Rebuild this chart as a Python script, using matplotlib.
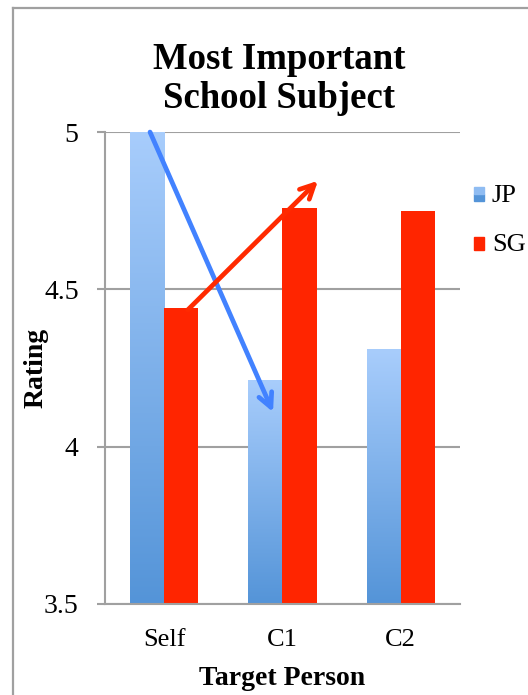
import matplotlib

matplotlib.use("Agg")
import matplotlib.pyplot as plt
import numpy as np
from matplotlib.colors import LinearSegmentedColormap
from matplotlib.lines import Line2D

# Ratings per target person
categories = ["Self", "C1", "C2"]
jp_values = [5.0, 4.21, 4.31]
sg_values = [4.44, 4.76, 4.75]
series_names = ["JP", "SG"]

# Trend arrows (start, end) in data coordinates
jp_arrow = ((-0.12, 5.0), (0.92, 4.11))
sg_arrow = ((0.20, 4.435), (1.30, 4.845))

JP_TOP = "#a8cdfc"
JP_BOTTOM = "#5494d8"
SG_COLOR = "#ff2500"
JP_ARROW = "#4282ff"
SG_ARROW = "#ff2a00"
GRID = "#a0a0a0"
SERIF = ["Liberation Serif", "DejaVu Serif"]

plt.rcParams["font.family"] = SERIF

fig = plt.figure(figsize=(5.28, 6.95), dpi=100)
ax = fig.add_axes([0.199, 0.131, 0.672, 0.679])

x = np.arange(len(categories))
width = 0.288
ymin, ymax = 3.5, 5.0

jp_cmap = LinearSegmentedColormap.from_list("jp", [JP_BOTTOM, JP_TOP])
grad = np.linspace(0, 1, 256).reshape(-1, 1)

for xi, v in zip(x, jp_values):
    left = xi - width
    ax.imshow(grad, cmap=jp_cmap, origin="lower", aspect="auto",
              extent=(left, xi, ymin, v), zorder=2, interpolation="bilinear")
ax.bar(x + width / 2, np.array(sg_values) - ymin, width, bottom=ymin,
       color=SG_COLOR, zorder=2)

ax.set_xlim(-0.5, 2.5)
ax.set_ylim(ymin, ymax)
ax.set_yticks([3.5, 4, 4.5, 5])
ax.set_yticklabels(["3.5", "4", "4.5", "5"])
ax.set_xticks(x)
ax.set_xticklabels(categories)
ax.yaxis.grid(True, color=GRID, linewidth=1.5, zorder=0)
ax.set_axisbelow(True)

for side in ["top", "right"]:
    ax.spines[side].set_visible(False)
for side in ["left", "bottom"]:
    ax.spines[side].set_color(GRID)
    ax.spines[side].set_linewidth(1.5)

ax.tick_params(axis="y", length=6, width=1.5, color=GRID, pad=13, labelsize=20)
ax.tick_params(axis="x", length=0, pad=18, labelsize=19)

ax.set_ylabel("Rating", fontsize=20, fontweight="bold", labelpad=-3)
ax.set_xlabel("Target Person", fontsize=20, fontweight="bold", labelpad=11)

# Trend arrows
for (start, end), color in [(jp_arrow, JP_ARROW), (sg_arrow, SG_ARROW)]:
    ax.annotate("", xy=end, xytext=start,
                arrowprops=dict(arrowstyle="->,head_length=1.0,head_width=0.5",
                                color=color, lw=3.4, shrinkA=0, shrinkB=0),
                zorder=4, annotation_clip=False)

fig.text(0.529, 1 - 79 / 695, "Most Important\nSchool Subject", ha="center",
         va="center", fontsize=26.5, fontweight="bold", linespacing=1.12)

# Legend
fig.patches.append(plt.Rectangle((474 / 528, 1 - 201 / 695), 10 / 528, 7 / 695,
                                 transform=fig.transFigure, color=JP_BOTTOM))
fig.patches.append(plt.Rectangle((474 / 528, 1 - 194 / 695), 10 / 528, 7 / 695,
                                 transform=fig.transFigure, color="#8fbcf2"))
fig.patches.append(plt.Rectangle((474 / 528, 1 - 250 / 695), 10 / 528, 13 / 695,
                                 transform=fig.transFigure, color=SG_COLOR))
fig.text(492 / 528, 1 - 196 / 695, series_names[0], fontsize=19, va="center")
fig.text(492 / 528, 1 - 245 / 695, series_names[1], fontsize=19, va="center")

# Chart frame
fig.add_artist(Line2D([13 / 528, 13 / 528], [0, 1 - 8 / 695],
                      transform=fig.transFigure, color=GRID, linewidth=1.6))
fig.add_artist(Line2D([13 / 528, 1], [1 - 8 / 695, 1 - 8 / 695],
                      transform=fig.transFigure, color=GRID, linewidth=1.6))

fig.savefig("out.png", dpi=100, facecolor="white")
